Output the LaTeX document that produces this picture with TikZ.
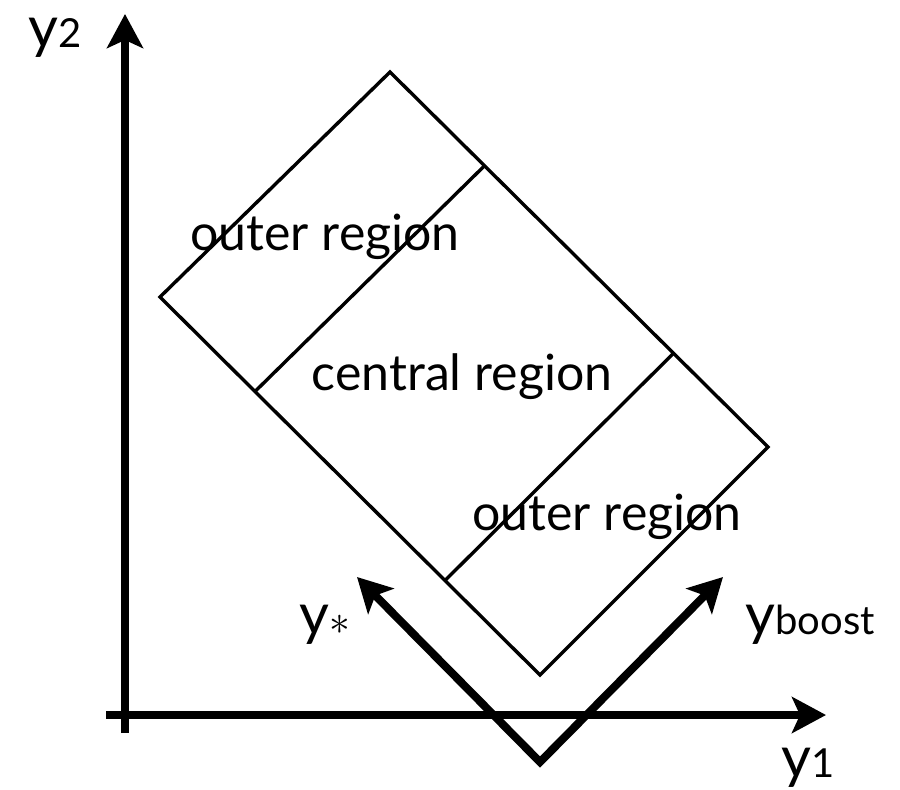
\documentclass[tikz,border=0pt]{standalone}
\usepackage{fontspec}
\setmainfont{Lato}
\usetikzlibrary{arrows.meta, positioning, calc}

\begin{document}
\begin{tikzpicture}[x=0.5pt, y=-0.5pt,
    axis/.style={line width=4pt, -{Stealth[length=17pt, width=18pt, inset=4pt]}},
    box/.style={line width=1.7pt, line join=miter},
    region/.style={font=\fontsize{25}{28}\selectfont, inner sep=0pt},
    varname/.style={font=\fontsize{29}{32}\selectfont, inner sep=0pt}]
  \useasboundingbox (0,0) rectangle (900,789);

  % axis end points
  \coordinate (Ybot) at (125,733);
  \coordinate (Ytop) at (125,14);
  \coordinate (Xleft) at (106,715);
  \coordinate (Xright) at (826,715);

  % rotated box corners
  \coordinate (T) at (390,72);
  \coordinate (L) at (160,297);
  \coordinate (B) at (540,675);
  \coordinate (R) at (768,447);

  % boost frame
  \coordinate (V) at (540,762);
  \coordinate (Sstar) at (357,577);
  \coordinate (Sboost) at (723,577);

  % the y1--y2 axes
  \draw[axis] (Ybot) -- (Ytop);
  \draw[axis] (Xleft) -- (Xright);
  \node[varname] (y2) at (55,38) {y{\fontsize{20}{22}\selectfont 2}};
  \node[varname] (y1) at (808,768) {y{\fontsize{20}{22}\selectfont 1}};

  % box and the two dividing lines
  \draw[box] (T) -- (R) -- (B) -- (L) -- cycle;
  \draw[box] ($(T)!0.25!(R)$) -- ($(L)!0.25!(B)$);
  \draw[box] ($(T)!0.75!(R)$) -- ($(L)!0.75!(B)$);

  \node[region] (outerA) at (325,237) {outer region};
  \node[region] (central) at (462,377) {central region};
  \node[region] (outerB) at (607,517) {outer region};

  % y* and yboost directions
  \draw[line width=4pt, line join=miter,
        {Stealth[length=17pt, width=18pt, inset=4pt]}-{Stealth[length=17pt, width=18pt, inset=4pt]}]
    (Sstar) -- (V) -- (Sboost);
  \node[varname] (ystar) at (325,625) {y{\fontsize{22}{24}\selectfont$\ast$}};
  \node[varname] (yboost) at (810,625) {y{\fontsize{20}{22}\selectfont boost}};
\end{tikzpicture}
\end{document}
